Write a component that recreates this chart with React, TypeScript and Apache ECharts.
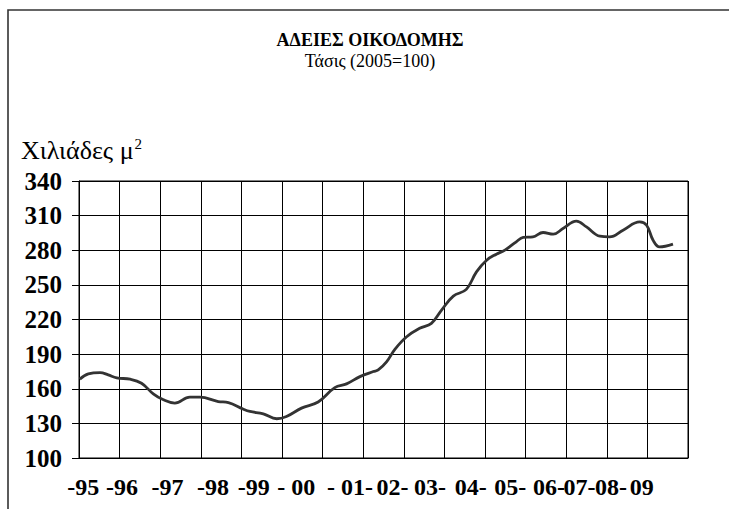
import React, { useEffect, useRef } from "react";
import * as echarts from "echarts";

const yearLabels = ["-95", "-96", "-97", "-98", "-99", "- 00", "- 01-", "02-", "03-", "04-", "05-", "06-", "07-", "08-", "09"];
const labelShift = [-16, -18, -13, -8, -8, -6, 7, 9, 6, 6, 5, 3, -7, -16, -26];

const timePoints = [
  1995.02, 1995.23, 1995.52, 1995.72, 1995.93, 1996.26, 1996.54, 1996.83, 1997.08, 1997.36,
  1997.73, 1997.98, 1998.43, 1998.68, 1999.04, 1999.21, 1999.54, 1999.87, 2000.11, 2000.48,
  2000.89, 2001.3, 2001.59, 2001.92, 2002.25, 2002.37, 2002.58, 2002.78, 2003.07, 2003.39,
  2003.68, 2003.93, 2004.22, 2004.54, 2004.79, 2005.04, 2005.28, 2005.49, 2005.77, 2005.94,
  2006.18, 2006.43, 2006.68, 2006.92, 2007.25, 2007.5, 2007.83, 2008.07, 2008.4, 2008.81,
  2008.98, 2009.14, 2009.3, 2009.63,
];
const trendValues = [
  168.3, 172.9, 174, 172, 169.4, 168.3, 164.8, 155.6, 150.4, 147.5,
  152.7, 152.7, 148.9, 148, 142.4, 140.3, 138.3, 134, 136, 143.2,
  148.5, 161, 164.2, 170.5, 174.9, 176.3, 183.5, 194.2, 205.1, 212.4,
  216.7, 228.2, 240.3, 246.1, 261.3, 271.4, 276.6, 280.1, 287.3, 291.1,
  291.6, 295.4, 293.9, 298.8, 305.2, 300.2, 292.2, 291.6, 297.4, 304.5,
  301.7, 288.7, 282.9, 285.3,
];
const yTicks = { min: 100, max: 340, interval: 30 };

const titleText = "ΑΔΕΙΕΣ ΟΙΚΟΔΟΜΗΣ";
const subtitleText = "Τάσις (2005=100)";
const unitText = "Χιλιάδες μ";
const unitPower = "2";

const FONT = "Liberation Serif";

export default function App() {
  const ref = useRef<HTMLDivElement>(null);
  useEffect(() => {
    document.body.style.margin = "0";
    const chart = echarts.init(ref.current!, null, { renderer: "svg" });
    const catData = yearLabels.map((v, i) => {
      const s = labelShift[i];
      const pad = s < 0 ? [0, -2 * s, 0, 0] : [0, 0, 0, 2 * s];
      return { value: v, textStyle: { padding: pad } };
    });
    chart.setOption({
      animation: false,
      backgroundColor: "#fff",
      textStyle: { fontFamily: FONT },
      grid: { left: 79, top: 181, width: 609, height: 277, show: true, borderColor: "#000", borderWidth: 1 },
      graphic: [
        {
          type: "rect",
          shape: { x: 8, y: 10, width: 3000, height: 3000 },
          style: { fill: "none", stroke: "#333", lineWidth: 1.6 },
          silent: true,
        },
        {
          type: "text",
          left: 21,
          top: 136,
          style: {
            text: "{a|" + unitText + "}{s|" + unitPower + "}",
            rich: {
              a: { fontFamily: FONT, fontSize: 26, fill: "#000", lineHeight: 28 },
              s: { fontFamily: FONT, fontSize: 15, fill: "#000", verticalAlign: "top", lineHeight: 28, padding: [0, 0, 12, 1] },
            },
          },
        },
      ],
      title: {
        text: titleText,
        subtext: subtitleText,
        left: 365,
        textAlign: "center",
        top: 26,
        itemGap: 3,
        textStyle: { fontFamily: FONT, fontSize: 18, fontWeight: "bold", color: "#000" },
        subtextStyle: { fontFamily: FONT, fontSize: 18, color: "#000" },
      },
      xAxis: [
        {
          type: "category",
          data: catData,
          boundaryGap: true,
          axisLine: { show: true, lineStyle: { color: "#000", width: 1 } },
          axisTick: { show: false },
          splitLine: { show: true, lineStyle: { color: "#000", width: 1 } },
          axisLabel: { fontFamily: FONT, fontSize: 24, fontWeight: "bold", color: "#000", margin: 17, interval: 0 },
        },
        { type: "value", min: 1995, max: 2010, show: false },
      ],
      yAxis: {
        type: "value",
        min: yTicks.min,
        max: yTicks.max,
        interval: yTicks.interval,
        axisLine: { show: true, lineStyle: { color: "#000", width: 1 } },
        axisTick: { show: true, length: 7, lineStyle: { color: "#000" } },
        splitLine: { show: true, lineStyle: { color: "#000", width: 1 } },
        axisLabel: { fontFamily: FONT, fontSize: 25, fontWeight: "bold", color: "#000", margin: 17 },
      },
      series: [
        {
          type: "line",
          xAxisIndex: 1,
          data: timePoints.map((t, i) => [t, trendValues[i]]),
          smooth: 0.4,
          showSymbol: false,
          lineStyle: { color: "#333", width: 2.8 },
        },
      ],
    });
    return () => chart.dispose();
  }, []);
  return <div ref={ref} style={{ position: "absolute", left: 0, top: 0, width: 729, height: 509 }} />;
}
